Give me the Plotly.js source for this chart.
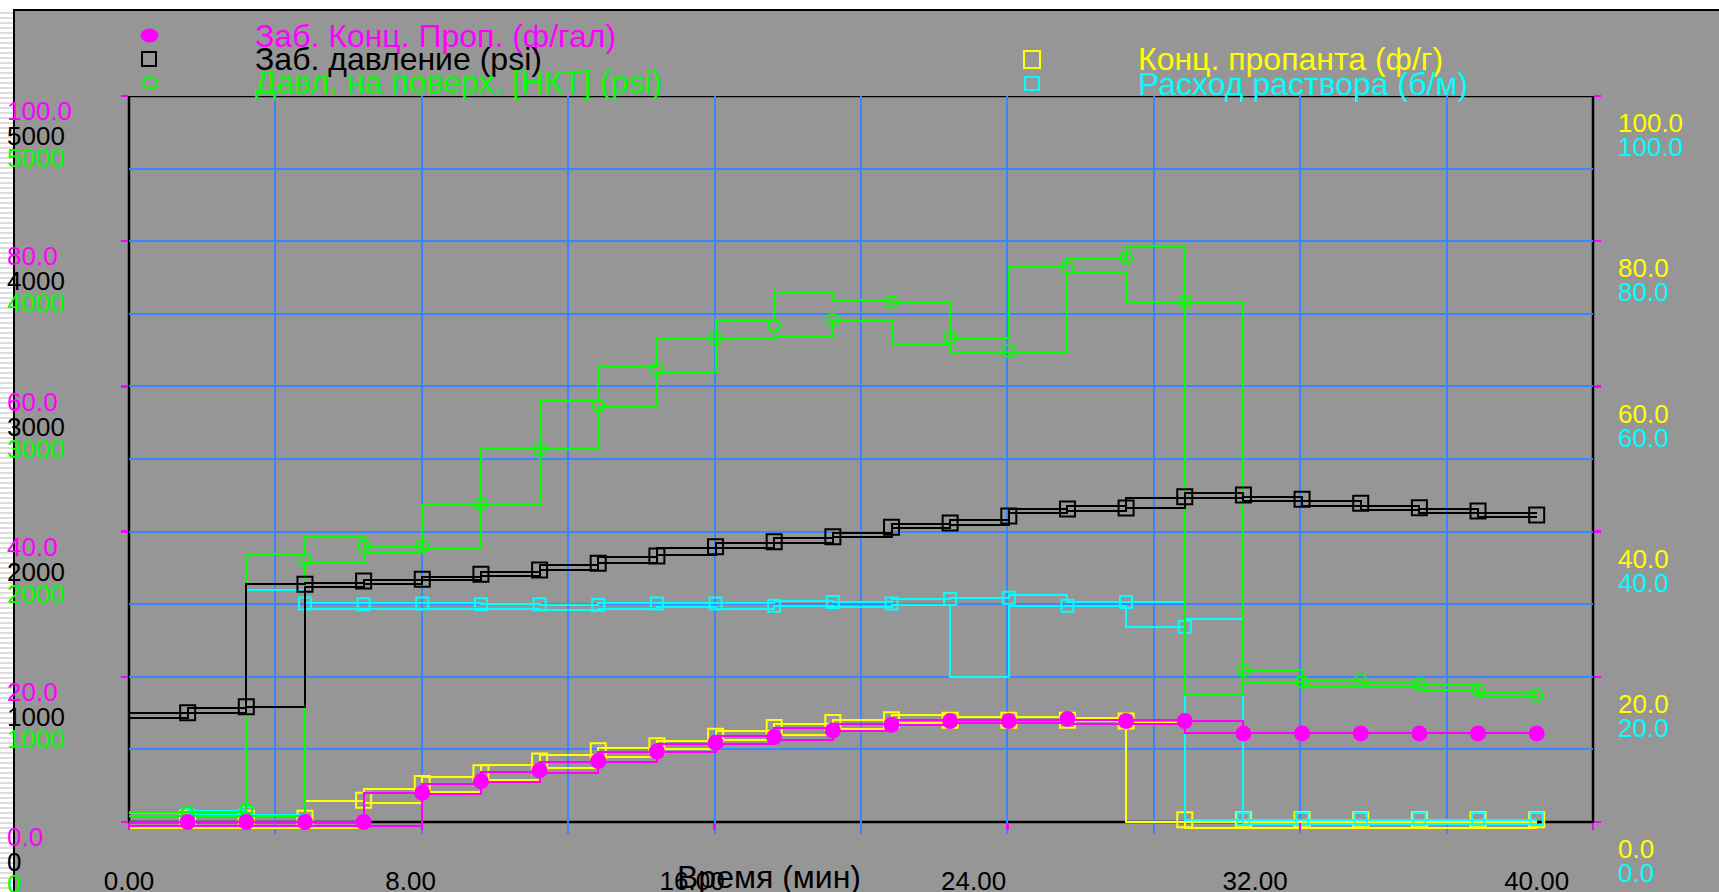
<!DOCTYPE html>
<html><head><meta charset="utf-8">
<script src="https://cdn.plot.ly/plotly-3.0.1.min.js"></script>
<style>
html,body{margin:0;padding:0;background:#ffffff;overflow:hidden;width:1719px;height:892px;}
#strip{position:absolute;left:0;top:9px;width:13px;height:883px;background:repeating-linear-gradient(to bottom,#ffffff 0px,#ffffff 3px,#dcdcdc 3px,#dcdcdc 5px);}
#panel{position:absolute;left:13px;top:9px;width:1706px;height:883px;background:#969696;border-left:2px solid #000;border-top:2px solid #000;box-sizing:border-box;}
#chart{position:absolute;left:0;top:0;width:1719px;height:892px;}
#chart .js-line, #chart .gridlayer path, #chart .xtick, #chart .ytick {shape-rendering:crispEdges;}
</style></head><body>
<div id="strip"></div><div id="panel"></div><div id="chart"></div>
<script>
// ---- data (time in minutes; step values are per interval between stage times) ----
const times = [0, 1.667, 3.333, 5, 6.667, 8.333, 10, 11.667, 13.333, 15, 16.667, 18.333, 20,
               21.667, 23.333, 25, 26.667, 28.333, 30, 31.667, 33.333, 35, 36.667, 38.333, 40];

// Заб. Конц. Проп. (ф/гал)  (left magenta scale 0-100)
const bhConcMarkers = [0, 0, 0, 0, 4.0, 5.6, 7.1, 8.4, 9.7, 10.9, 11.7, 12.6, 13.4, 13.9, 13.9, 14.2, 13.9, 13.9, 12.2, 12.2, 12.2, 12.2, 12.2, 12.2];
const bhConcStepA   = [0, 0, 0, 0, 4.0, 5.3, 6.9, 8.3, 9.6, 10.7, 11.8, 12.9, 13.5, 14.1, 14.1, 14.1, 14.1, 14.1, 13.9, 12.2, 12.2, 12.2, 12.2, 12.2];
const bhConcStepB   = [-0.6, -0.6, -0.6, -0.6, -0.6, 3.9, 5.5, 6.8, 8.3, 9.6, 10.7, 11.3, 12.6, 13.4, 13.6, 13.6, 13.5, 13.5, 12.2, 12.2, 12.2, 12.2, 12.2, 12.2];

// Заб. давление (psi)
const bhpMarkers = [753, 794, 1637, 1660, 1671, 1706, 1735, 1782, 1832, 1896, 1930, 1965, 2030, 2059, 2107, 2156, 2163, 2240, 2252, 2222, 2195, 2165, 2142, 2114];
const bhpStepA   = [749, 783, 1639, 1648, 1667, 1689, 1724, 1770, 1827, 1885, 1924, 1954, 1992, 2052, 2080, 2158, 2178, 2229, 2264, 2240, 2211, 2178, 2154, 2130];
const bhpStepB   = [714, 753, 790, 1620, 1639, 1667, 1694, 1735, 1782, 1839, 1885, 1919, 1961, 2023, 2045, 2128, 2142, 2160, 2229, 2211, 2178, 2149, 2126, 2103];

// Давл. на поверх. [НКТ] (psi)
const tubMarkers = [62, 83, 1804, 1901, 1901, 2190, 2567, 2867, 3118, 3331, 3418, 3457, 3583, 3338, 3244, 3820, 3886, 3583, 1047, 966, 973, 948, 909, 875];
const tubStepA   = [69, 71, 1844, 1972, 1901, 2183, 2183, 2899, 3136, 3335, 3457, 3641, 3595, 3583, 3331, 3820, 3882, 3967, 875, 1047, 978, 959, 944, 898];
const tubStepB   = [41, 41, 41, 1782, 1857, 1885, 2567, 2567, 2867, 3097, 3331, 3347, 3452, 3285, 3239, 3239, 3779, 3583, 3583, 966, 937, 932, 909, 868];

// Конц. пропанта (ф/г)  (right yellow scale 0-100)
const propMarkers = [0.5, 0.5, 0.5, 3.0, 5.3, 6.8, 8.4, 9.8, 10.5, 11.8, 13.0, 13.7, 14.1, 14.0, 14.0, 14.0, 13.9, 0.3, 0.3, 0.3, 0.3, 0.3, 0.3, 0.3];
const propStepA   = [-0.8, -0.8, -0.8, 2.9, 4.6, 6.2, 7.9, 9.2, 10.2, 11.1, 12.6, 13.5, 14.1, 14.7, 14.5, 14.5, 14.3, 0.0, 0.0, 0.0, 0.0, 0.0, 0.0, 0.0];
const propStepB   = [-0.8, -0.8, -0.8, -0.8, 2.6, 4.2, 5.8, 7.4, 8.9, 10.0, 11.3, 12.0, 12.8, 13.7, 13.6, 13.6, 13.9, 13.6, -0.8, -0.8, -0.8, -0.8, -0.8, -0.8];

// Расход раствора (б/м)  (right cyan scale 0-100)
const rateMarkers = [1.0, 1.2, 30.1, 30.0, 30.1, 30.0, 30.0, 29.9, 30.1, 30.1, 29.8, 30.3, 30.1, 30.7, 30.9, 29.8, 30.3, 26.9, 0.4, 0.4, 0.4, 0.4, 0.4, 0.4];
const rateStepA   = [1.2, 1.5, 32.0, 30.1, 30.1, 30.1, 30.0, 29.9, 30.1, 30.1, 30.1, 30.4, 30.3, 30.7, 30.9, 31.3, 30.3, 30.3, 0.3, 0.3, 0.3, 0.3, 0.3, 0.3];
const rateStepB   = [0.8, 1.0, 1.0, 29.4, 29.4, 29.4, 29.3, 29.2, 29.4, 29.6, 29.4, 29.7, 29.6, 29.9, 20.0, 29.8, 29.7, 26.9, 28.0, -0.3, -0.3, -0.3, -0.3, -0.3];

// axis ticks / labels
const xLabelVals = [0, 8, 16, 24, 32, 40];
const xLabelText = ['0.00', '8.00', '16.00', '24.00', '32.00', '40.00'];
const pctTickVals = [0, 20, 40, 60, 80, 100];
const pctTickText = ['0.0', '20.0', '40.0', '60.0', '80.0', '100.0'];
const psiTickVals = [0, 1000, 2000, 3000, 4000, 5000];
const psiTickText = ['0', '1000', '2000', '3000', '4000', '5000'];
const xGridVals = [4.16, 8.32, 12.48, 16.64, 20.8, 24.96, 29.12, 33.28, 37.44];
const xMagTicks = [0, 8.32, 16.64, 24.96, 33.28, 41.6];
const yGridVals = [10, 20, 30, 40, 50, 60, 70, 80, 90];

const legendLeft = ['Заб. Конц. Проп. (ф/гал)', 'Заб. давление (psi)', 'Давл. на поверх. [НКТ] (psi)'];
const legendRight = ['Конц. пропанта (ф/г)', 'Расход раствора (б/м)'];
const xTitle = 'Время (мин)';

// ---- styles / geometry ----
const W = 1719, H = 892;
const MAG = '#ff00ff', BLK = '#000000', GRN = '#00ff00', YEL = '#ffff00', CYN = '#00ffff', GRID = '#3a86ff';
const FONT = 'Liberation Sans, Arial, sans-serif';
const X0 = 129, X1 = 1593, YTOP = 96, YZERO = 822;
const pxPerUnit = (YZERO - YTOP) / 100;
const yMin = -1.6;
const yBottom = YZERO - yMin * pxPerUnit;
const ydom = [1 - yBottom / H, 1 - YTOP / H];
const xdom = [X0 / W, X1 / W];
const xRange = [0, 41.6];
const pctRange = [yMin, 100];
const psiRange = [yMin * 50, 5000];
const px = v => v / W, py = v => 1 - v / H;

function stepTrace(vals, color, yax) {
  return {x: times, y: vals.concat([vals[vals.length - 1]]), xaxis: 'x', yaxis: yax, mode: 'lines',
          line: {shape: 'hv', color: color, width: 2}, hoverinfo: 'skip', showlegend: false};
}
function markerTrace(vals, color, yax, symbol, size) {
  return {x: times.slice(1), y: vals, xaxis: 'x', yaxis: yax, mode: 'markers', cliponaxis: false,
          marker: {symbol: symbol, size: size, color: color, line: {color: color, width: 2}},
          hoverinfo: 'skip', showlegend: false};
}
const dummy = (xa, ya) => ({x: [null], y: [null], xaxis: xa, yaxis: ya, mode: 'markers', showlegend: false, hoverinfo: 'skip'});

// overlay subplots are stacked in axis order: y2 (yellow) bottom ... y6 (magenta) top
const traces = [
  dummy('x', 'y'), dummy('x', 'y7'), dummy('x', 'y8'), dummy('x2', 'y'), dummy('x3', 'y'),
  stepTrace(propStepB, YEL, 'y2'), stepTrace(propStepA, YEL, 'y2'), markerTrace(propMarkers, YEL, 'y2', 'square-open', 15),
  stepTrace(rateStepB, CYN, 'y3'), stepTrace(rateStepA, CYN, 'y3'), markerTrace(rateMarkers, CYN, 'y3', 'square-open', 12),
  stepTrace(tubStepB, GRN, 'y4'), stepTrace(tubStepA, GRN, 'y4'), markerTrace(tubMarkers, GRN, 'y4', 'circle-open', 12),
  stepTrace(bhpStepB, BLK, 'y5'), stepTrace(bhpStepA, BLK, 'y5'), markerTrace(bhpMarkers, BLK, 'y5', 'square-open', 15),
  stepTrace(bhConcStepB, MAG, 'y6'), stepTrace(bhConcStepA, MAG, 'y6'), markerTrace(bhConcMarkers, MAG, 'y6', 'circle', 14)
];

const base = {showgrid: false, zeroline: false, showline: false, automargin: false, fixedrange: true};
function labelAxis(range, vals, text, color, pos, shift) {
  return Object.assign({}, base, {overlaying: 'y', anchor: 'free', position: pos, side: 'right', range: range,
    tickmode: 'array', tickvals: vals, ticktext: text, ticks: '', ticklabelshift: shift, ticklabelstandoff: 2,
    ticklabeloverflow: 'allow', tickfont: {family: FONT, size: 26, color: color}});
}
function tickAxis(side) {
  return Object.assign({}, base, {overlaying: 'y', anchor: 'x', side: side, range: pctRange, tickmode: 'array',
    tickvals: pctTickVals, ticks: 'outside', ticklen: 7, tickwidth: 2.5, tickcolor: MAG, showticklabels: false});
}

const layout = {
  width: W, height: H, margin: {l: 0, r: 0, t: 0, b: 0, pad: 0},
  paper_bgcolor: 'rgba(0,0,0,0)', plot_bgcolor: 'rgba(0,0,0,0)', showlegend: false,
  font: {family: FONT},
  xaxis: Object.assign({}, base, {domain: xdom, range: xRange, tickmode: 'array', tickvals: xGridVals,
    showgrid: true, gridcolor: GRID, gridwidth: 2, ticks: '', showticklabels: false}),
  xaxis2: Object.assign({}, base, {overlaying: 'x', anchor: 'free', position: py(YZERO), range: xRange,
    tickmode: 'array', tickvals: xMagTicks, ticks: 'outside', ticklen: 7, tickwidth: 2.5, tickcolor: MAG, showticklabels: false}),
  xaxis3: Object.assign({}, base, {overlaying: 'x', anchor: 'free', position: py(YZERO), range: xRange,
    tickmode: 'array', tickvals: xLabelVals, ticktext: xLabelText, ticks: '', ticklabelstandoff: 41,
    ticklabeloverflow: 'allow', tickfont: {family: FONT, size: 26, color: BLK}}),
  yaxis: Object.assign({}, base, {domain: ydom, range: pctRange, tickmode: 'array', tickvals: yGridVals,
    showgrid: true, gridcolor: GRID, gridwidth: 2, ticks: '', showticklabels: false}),
  yaxis2: labelAxis(pctRange, pctTickVals, pctTickText, YEL, px(1615), 27),
  yaxis3: labelAxis(pctRange, pctTickVals, pctTickText, CYN, px(1615), 51),
  yaxis4: labelAxis(psiRange, psiTickVals, psiTickText, GRN, px(4), 62),
  yaxis5: labelAxis(psiRange, psiTickVals, psiTickText, BLK, px(4), 40),
  yaxis6: labelAxis(pctRange, pctTickVals, pctTickText, MAG, px(4), 15),
  yaxis7: tickAxis('left'),
  yaxis8: tickAxis('right'),
  shapes: [
    {type: 'rect', xref: 'x domain', yref: 'y', x0: 0, x1: 1, y0: 0, y1: 100, line: {color: '#000', width: 2.5}, layer: 'below'},
    {type: 'circle', xref: 'paper', yref: 'paper', x0: px(141), x1: px(158), y0: py(42), y1: py(29), fillcolor: MAG, line: {color: MAG, width: 1}},
    {type: 'rect', xref: 'paper', yref: 'paper', x0: px(142), x1: px(156), y0: py(66), y1: py(52), line: {color: BLK, width: 2}},
    {type: 'circle', xref: 'paper', yref: 'paper', x0: px(143), x1: px(157), y0: py(89), y1: py(77), line: {color: GRN, width: 2}},
    {type: 'rect', xref: 'paper', yref: 'paper', x0: px(1024), x1: px(1040), y0: py(68), y1: py(51), line: {color: YEL, width: 2}},
    {type: 'rect', xref: 'paper', yref: 'paper', x0: px(1025), x1: px(1039), y0: py(90), y1: py(77), line: {color: CYN, width: 2}}
  ],
  annotations: [
    {text: legendLeft[0], xref: 'paper', yref: 'paper', x: px(253), y: py(36), xanchor: 'left', yanchor: 'middle', showarrow: false, font: {family: FONT, size: 32, color: MAG}},
    {text: legendLeft[1], xref: 'paper', yref: 'paper', x: px(253), y: py(59), xanchor: 'left', yanchor: 'middle', showarrow: false, font: {family: FONT, size: 32, color: BLK}},
    {text: legendLeft[2], xref: 'paper', yref: 'paper', x: px(253), y: py(82), xanchor: 'left', yanchor: 'middle', showarrow: false, font: {family: FONT, size: 32, color: GRN}},
    {text: legendRight[0], xref: 'paper', yref: 'paper', x: px(1136), y: py(59), xanchor: 'left', yanchor: 'middle', showarrow: false, font: {family: FONT, size: 32, color: YEL}},
    {text: legendRight[1], xref: 'paper', yref: 'paper', x: px(1136), y: py(84), xanchor: 'left', yanchor: 'middle', showarrow: false, font: {family: FONT, size: 32, color: CYN}},
    {text: xTitle, xref: 'paper', yref: 'paper', x: px(769), y: py(877), xanchor: 'center', yanchor: 'middle', showarrow: false, font: {family: FONT, size: 32, color: BLK}}
  ]
};

Plotly.newPlot('chart', traces, layout, {displayModeBar: false, staticPlot: true});
</script></body></html>
